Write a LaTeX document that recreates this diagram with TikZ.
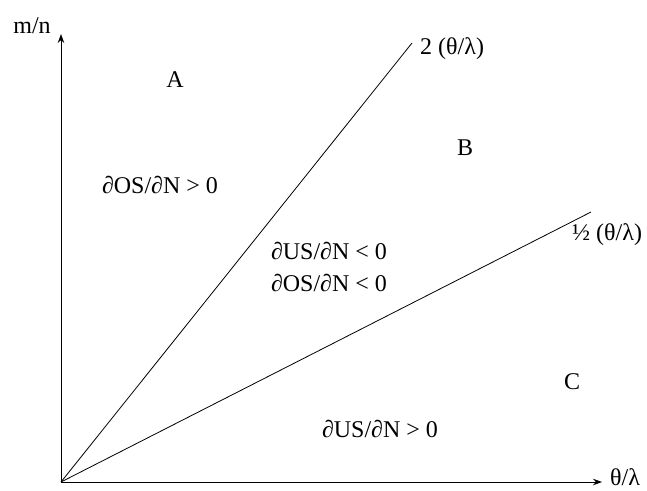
\documentclass[tikz,border=0pt]{standalone}
\usepackage{fontspec}
\setmainfont{Liberation Serif}
\usetikzlibrary{arrows.meta,positioning}
\begin{document}
\begin{tikzpicture}[x=1pt, y=-1pt,
  ax/.style={-{Stealth[length=9pt, width=6.5pt]}, line width=0.9pt},
  ray/.style={line width=0.8pt},
  lbl/.style={font=\fontsize{24}{28}\selectfont, inner sep=1pt}]
\useasboundingbox (0,0) rectangle (647,490);
% axes and the two rays
\coordinate (o) at (61,482);
\coordinate (ytip) at (61,34);
\coordinate (xtip) at (602,482);
\coordinate (rtwo) at (412,43);
\coordinate (rhalf) at (591,212);
\draw[ax] (o) -- (ytip);
\draw[ax] (o) -- (xtip);
\draw[ray] (o) -- (rtwo);
\draw[ray] (o) -- (rhalf);
% labels
\node[lbl] (ylab) at (32,26) {m/n};
\node[lbl, inner sep=0pt, anchor=base west] (xlab) at (610,485) {θ/λ};
\node[lbl, anchor=west] (ltwo) at (419,49) {2 (θ/λ)};
\node[lbl, anchor=west] (lhalf) at (571,235) {½ (θ/λ)};
\node[lbl] (ra) at (175,80) {A};
\node[lbl] (rb) at (465,148) {B};
\node[lbl] (rc) at (572,382) {C};
\node[lbl] (osa) at (160,185) {∂OS/∂N > 0};
\node[lbl] (usb) at (329,251) {∂US/∂N < 0};
\node[lbl] (osb) at (329,283) {∂OS/∂N < 0};
\node[lbl] (usc) at (380,429) {∂US/∂N > 0};
\end{tikzpicture}
\end{document}
